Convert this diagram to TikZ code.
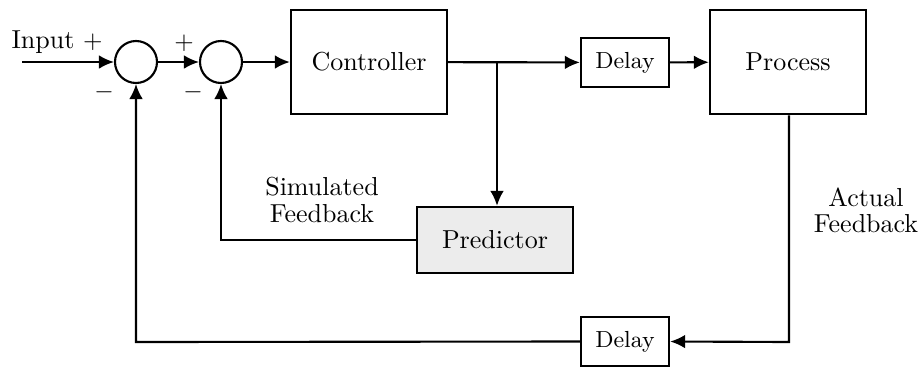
\documentclass[tikz,border=0pt]{standalone}
\usetikzlibrary{arrows.meta}
\begin{document}
\begin{tikzpicture}[x=0.4pt,y=-0.4pt,
  every node/.style={font=\fontsize{10.4pt}{12.5pt}\selectfont},
  blk/.style={draw,line width=0.95pt,minimum width=62.4pt,minimum height=41.8pt,inner sep=0pt},
  dly/.style={draw,line width=0.95pt,minimum width=35.2pt,minimum height=19.6pt,inner sep=0pt,font=\fontsize{9.3pt}{11pt}\selectfont},
  pblk/.style={draw,line width=0.95pt,fill=gray!15,minimum width=62.4pt,minimum height=26.4pt,inner sep=0pt},
  sumc/.style={draw,circle,line width=0.85pt,minimum size=16.8pt,inner sep=0pt},
  arr/.style={-{Latex[length=6pt,width=5.5pt]},line width=0.85pt},
  lbl/.style={inner sep=0pt,align=center}]
\useasboundingbox (0,0) rectangle (919,367);
\node[sumc] (s1) at (136,62) {};
\node[sumc] (s2) at (221,62) {};
\node[blk] (ctrl) at (369,62) {Controller};
\node[dly] (d1) at (625,62.5) {Delay};
\node[blk] (proc) at (788,62) {Process};
\node[pblk] (pred) at (495,240) {Predictor};
\node[dly] (d2) at (625,341.5) {Delay};
\coordinate (in) at (22,62);
\coordinate (br) at (497,62);
\coordinate (sf) at (221,240);
\coordinate (pc) at (789,342);
\coordinate (fc) at (136,342);
\node[lbl] (tin) at (57,42) {Input $+$};
\node[lbl] (p2) at (184,43) {$+$};
\node[lbl] (m1) at (104,92) {$-$};
\node[lbl] (m2) at (193,92) {$-$};
\node[lbl] (tsim) at (322,200) {Simulated\\[-2pt]Feedback};
\node[lbl] (tact) at (866,210) {Actual\\[-2pt]Feedback};
\draw[arr] (in) -- (s1);
\draw[arr] (s1) -- (s2);
\draw[arr] (s2) -- (ctrl);
\draw[arr] (ctrl) -- (d1);
\draw[arr] (d1) -- (proc);
\draw[arr] (br) -- (br |- pred.north);
\draw[arr] (pred.west) -- (sf) -- (s2.south);
\draw[arr] (proc.south -| pc) -- (pc) -- (d2.east);
\draw[arr] (d2.west) -- (fc) -- (s1.south);
\end{tikzpicture}
\end{document}
